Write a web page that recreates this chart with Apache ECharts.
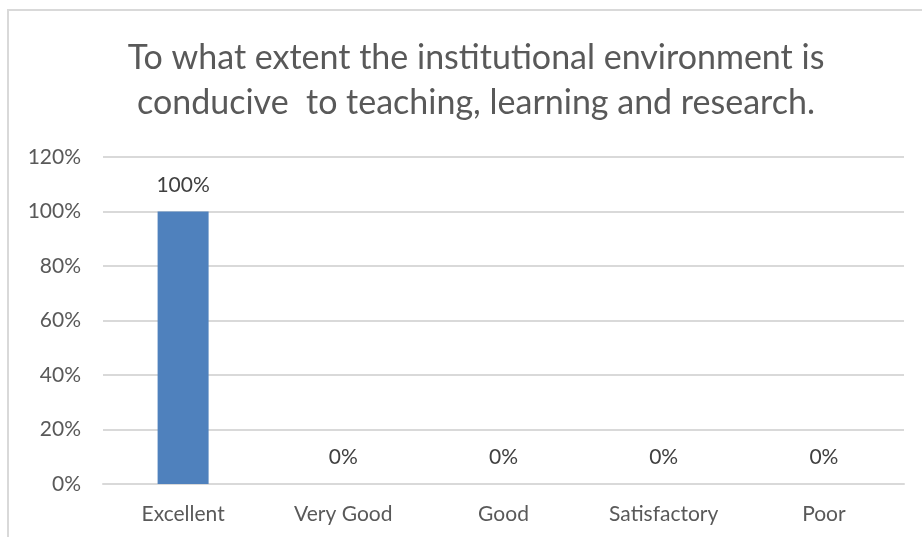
<!DOCTYPE html>
<html>
<head>
<meta charset="utf-8">
<script src="https://cdn.jsdelivr.net/npm/echarts@6/dist/echarts.min.js"></script>
<style>
  html, body { margin: 0; padding: 0; background: #fff; }
  #chart { width: 922px; height: 537px; }
</style>
</head>
<body>
<div id="chart"></div>
<script>
var categories = ["Excellent", "Very Good", "Good", "Satisfactory", "Poor"];
var shares = [100, 0, 0, 0, 0];
var yTicks = [0, 20, 40, 60, 80, 100, 120];

var FONT = "Lato";
var chart = echarts.init(document.getElementById("chart"));

var option = {
    animation: false,
    backgroundColor: "#ffffff",
    title: {
        text: "To what extent the institutional environment is\nconducive  to teaching, learning and research.",
        left: 471,
        top: 31,
        textAlign: "center",
        textStyle: {
            fontFamily: FONT,
            fontSize: 34,
            fontWeight: "normal",
            color: "#595959",
            lineHeight: 45
        }
    },
    graphic: [{
        type: "rect",
        shape: { x: 8, y: 10, width: 940, height: 560 },
        style: { fill: "none", stroke: "#d9d9d9", lineWidth: 2 },
        silent: true
    }],
    grid: { left: 103, right: 18, top: 157, bottom: 53, containLabel: false },
    xAxis: {
        type: "category",
        data: categories,
        axisLine: { show: true, lineStyle: { color: "#d9d9d9", width: 2 } },
        axisTick: { show: false },
        axisLabel: { color: "#595959", fontFamily: FONT, fontSize: 21, margin: 20 }
    },
    yAxis: {
        type: "value",
        min: yTicks[0],
        max: yTicks[yTicks.length - 1],
        interval: 20,
        axisLine: { show: false },
        axisTick: { show: false },
        splitLine: { lineStyle: { color: "#d9d9d9", width: 2 } },
        axisLabel: {
            color: "#595959", fontFamily: FONT, fontSize: 21, margin: 22,
            formatter: "{value}%"
        }
    },
    series: [{
        type: "bar",
        data: shares,
        barWidth: 51,
        itemStyle: { color: "#4f81bd" },
        label: {
            show: true,
            position: "top",
            distance: 16,
            formatter: "{c}%",
            color: "#404040",
            fontFamily: FONT,
            fontSize: 21
        }
    }]
};

chart.setOption(option);
</script>
</body>
</html>
